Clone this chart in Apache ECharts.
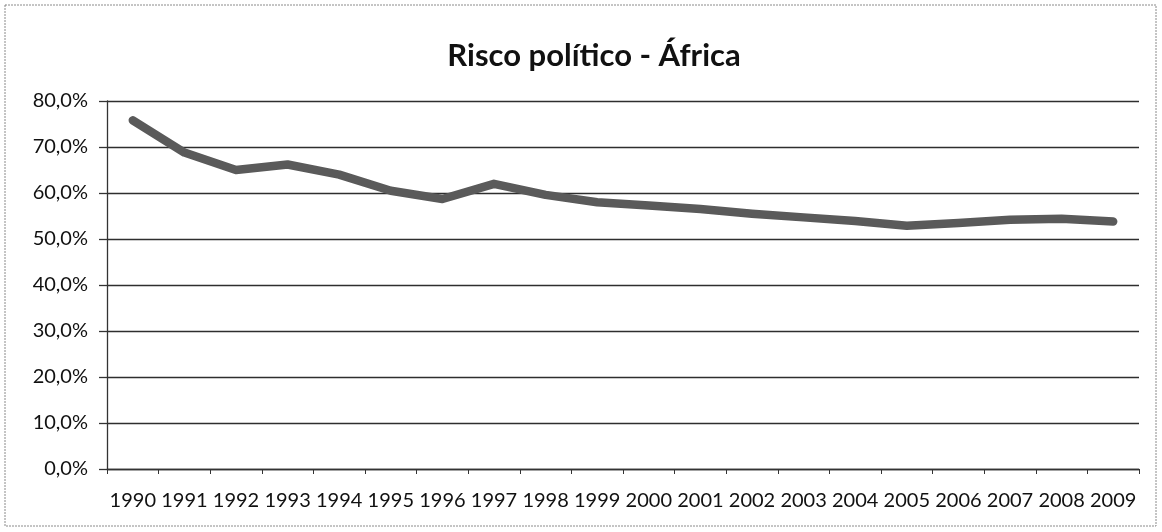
<!DOCTYPE html>
<html>
<head>
<meta charset="utf-8">
<script src="https://cdn.jsdelivr.net/npm/echarts@6/dist/echarts.min.js"></script>
<style>
  html, body { margin: 0; padding: 0; background: #ffffff; }
  #chart { width: 1162px; height: 532px; }
</style>
</head>
<body>
<div id="chart"></div>
<script>
// Political risk index for Africa, yearly share (%)
const years = ['1990','1991','1992','1993','1994','1995','1996','1997','1998','1999',
               '2000','2001','2002','2003','2004','2005','2006','2007','2008','2009'];
const riskValues = [75.8, 68.8, 65.0, 66.2, 64.0, 60.5, 58.7, 62.0, 59.6, 58.0,
                    57.3, 56.5, 55.5, 54.7, 53.9, 52.9, 53.5, 54.2, 54.4, 53.8];
const yTicks = [0, 10, 20, 30, 40, 50, 60, 70, 80];

const chart = echarts.init(document.getElementById('chart'), null, { renderer: 'canvas' });

const textFont = 'Lato';

chart.setOption({
  backgroundColor: '#ffffff',
  animation: false,
  title: {
    text: 'Risco político - África',
    left: 589,
    textAlign: 'center',
    top: 35,
    textStyle: { fontFamily: textFont, fontWeight: 'bold', fontSize: 31, color: '#111111' }
  },
  graphic: [{
    type: 'rect',
    shape: { x: 5, y: 5, width: 1151, height: 521 },
    style: { fill: 'none', stroke: '#8a8a8a', lineWidth: 1, lineDash: [2, 1] },
    silent: true
  }],
  grid: { left: 107, right: 23, top: 101, bottom: 63, containLabel: false },
  xAxis: {
    type: 'category',
    data: years,
    boundaryGap: true,
    axisLine: { show: true, lineStyle: { color: '#333333', width: 1.3 } },
    axisTick: { show: true, inside: false, length: 5, alignWithLabel: false, lineStyle: { color: '#333333' } },
    axisLabel: { fontFamily: textFont, fontSize: 20, color: '#111111', margin: 22, interval: 0 }
  },
  yAxis: {
    type: 'value',
    min: 0,
    max: 80,
    interval: 10,
    axisLine: { show: true, lineStyle: { color: '#333333', width: 1.3 } },
    axisTick: { show: true, length: 8, lineStyle: { color: '#333333', width: 1.3 } },
    splitLine: { show: true, lineStyle: { color: '#2e2e2e', width: 1.3 } },
    axisLabel: {
      fontFamily: textFont, fontSize: 20, color: '#111111', margin: 19,
      formatter: v => yTicks.includes(v) ? v.toFixed(1).replace('.', ',') + '%' : ''
    }
  },
  series: [{
    type: 'line',
    data: riskValues,
    symbol: 'none',
    smooth: false,
    lineStyle: { color: '#5a5a5a', width: 8.5, cap: 'round', join: 'round' }
  }]
});
</script>
</body>
</html>
